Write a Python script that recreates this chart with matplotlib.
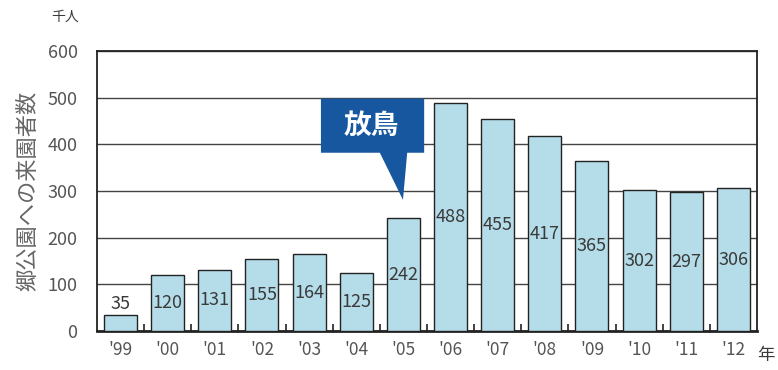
import matplotlib.pyplot as plt
from matplotlib.patches import Polygon

plt.rcParams['font.family'] = ['Noto Sans CJK JP', 'DejaVu Sans']

years = ["'99", "'00", "'01", "'02", "'03", "'04", "'05", "'06", "'07", "'08", "'09", "'10", "'11", "'12"]
visitors = [35, 120, 131, 155, 164, 125, 242, 488, 455, 417, 365, 302, 297, 306]

bar_color = "#b5dde9"
text_color = "#3a3a3a"

fig = plt.figure(figsize=(7.78, 3.70), dpi=100)
ax = fig.add_axes([97 / 778, 39 / 370, 660 / 778, 280 / 370])

x = range(len(years))
ax.bar(x, visitors, width=0.7, color=bar_color, edgecolor="#222222", linewidth=1.0, zorder=3)

for i, v in enumerate(visitors):
    if v < 60:
        ax.text(i, v + 3, str(v), ha="center", va="bottom", fontsize=13, color=text_color, zorder=4)
    else:
        ax.text(i, v * 0.5, str(v), ha="center", va="center", fontsize=13, color=text_color, zorder=4)

ax.set_xlim(-0.5, len(years) - 0.5)
ax.set_ylim(0, 600)
ax.set_yticks(range(0, 601, 100))
ax.yaxis.grid(True, color="#444444", linewidth=1.0, zorder=0)
ax.set_axisbelow(True)

ax.set_xticks(list(x))
ax.set_xticklabels(years)
ax.set_xticks([i + 0.5 for i in range(len(years) - 1)], minor=True)
ax.tick_params(axis="x", which="major", length=0, pad=7, labelsize=12.5, labelcolor="#555555")
ax.tick_params(axis="x", which="minor", direction="in", length=5, width=1.2, color="#222222")
ax.tick_params(axis="y", length=0, pad=14, labelsize=13, labelcolor="#555555")

for s in ax.spines.values():
    s.set_color("#222222")
    s.set_linewidth(1.3)
ax.spines["bottom"].set_linewidth(2.0)

ax.set_ylabel("郷公園への来園者数", fontsize=16, color="#666666", labelpad=6)
fig.text(65 / 778, 1 - 17 / 370, "千人", ha="center", va="center", fontsize=10, color=text_color)
fig.text(766 / 778, 1 - 355 / 370, "年", ha="center", va="center", fontsize=12.5, color=text_color)

# callout for the release
callout = Polygon([(4.25, 498), (6.44, 498), (6.44, 382), (6.08, 382), (5.99, 281),
                   (5.50, 382), (4.25, 382)], closed=True,
                  facecolor="#1657a0", edgecolor="none", zorder=5)
ax.add_patch(callout)
ax.text(5.32, 440, "放鳥", ha="center", va="center", fontsize=20, fontweight="bold",
        color="white", zorder=6)

plt.savefig("out.png", dpi=100)
